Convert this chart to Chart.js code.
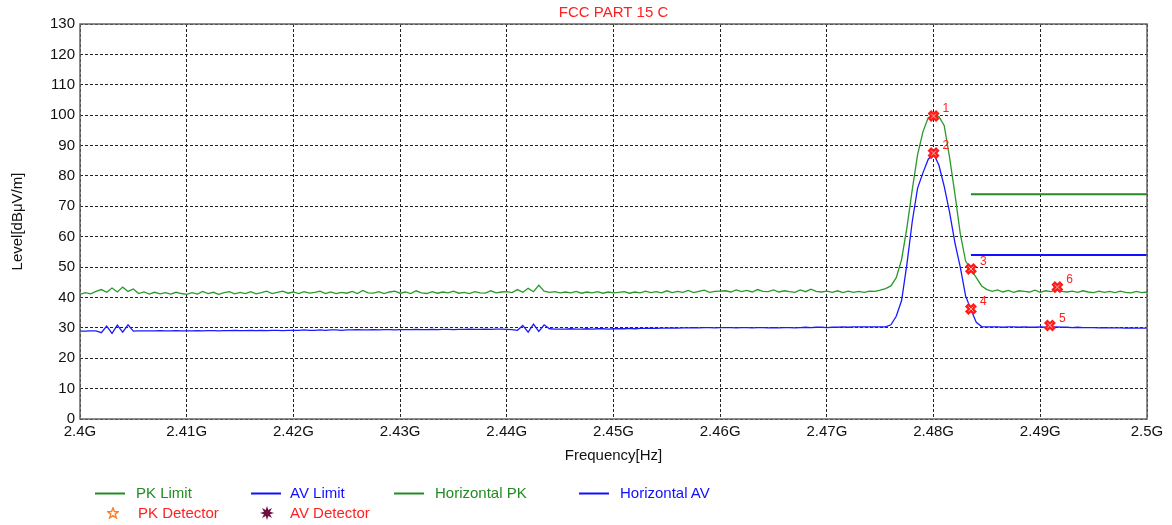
<!DOCTYPE html>
<html>
<head>
<meta charset="utf-8">
<script src="https://cdn.jsdelivr.net/npm/chart.js@4"></script>
<style>
html, body { margin: 0; padding: 0; background: #fff; }
#wrap { position: relative; width: 1172px; height: 525px; }
.lg { position: absolute; font-family: "Liberation Sans", Arial, sans-serif; font-size: 15px; white-space: nowrap; line-height: 18px; }
.sw { position: absolute; }
</style>
</head>
<body>
<div id="wrap">
  <canvas id="myChart" width="1172" height="525"></canvas>

  <svg class="sw" style="left:95px;top:492px" width="30" height="3"><line x1="0" y1="1.5" x2="30" y2="1.5" stroke="#228b22" stroke-width="2"/></svg>
  <div class="lg" style="left:136px;top:484px;color:#228b22">PK Limit</div>
  <svg class="sw" style="left:251px;top:492px" width="30" height="3"><line x1="0" y1="1.5" x2="30" y2="1.5" stroke="#1010ff" stroke-width="2"/></svg>
  <div class="lg" style="left:290px;top:484px;color:#1010ff">AV Limit</div>
  <svg class="sw" style="left:394px;top:492px" width="30" height="3"><line x1="0" y1="1.5" x2="30" y2="1.5" stroke="#228b22" stroke-width="2"/></svg>
  <div class="lg" style="left:435px;top:484px;color:#228b22">Horizontal PK</div>
  <svg class="sw" style="left:579px;top:492px" width="30" height="3"><line x1="0" y1="1.5" x2="30" y2="1.5" stroke="#1010ff" stroke-width="2"/></svg>
  <div class="lg" style="left:620px;top:484px;color:#1010ff">Horizontal AV</div>

  <svg class="sw" style="left:107px;top:507px" width="12" height="12"><polygon points="6,0.8 7.4,4.6 11.4,4.6 8.2,7.1 9.4,11 6,8.6 2.6,11 3.8,7.1 0.6,4.6 4.6,4.6" fill="none" stroke="#ff7f27" stroke-width="1.4"/></svg>
  <div class="lg" style="left:138px;top:504px;color:#ff2020">PK Detector</div>
  <svg class="sw" style="left:260px;top:506px" width="14" height="14"><polygon points="7,0 8.3,4 12,2 10,5.7 14,7 10,8.3 12,12 8.3,10 7,14 5.7,10 2,12 4,8.3 0,7 4,5.7 2,2 5.7,4" fill="#6b1040"/></svg>
  <div class="lg" style="left:290px;top:504px;color:#ff2020">AV Detector</div>
</div>

<script>
// sweep: 2400 MHz .. 2500 MHz, one reading every 0.5 MHz
const freqStartMHz = 2400;
const freqStepMHz = 0.5;

// Horizontal PK trace, dBuV/m
const horizontalPK = [
  41.0, 41.6, 41.2, 42.0, 42.6, 41.7, 43.1, 41.8, 43.4, 42.0, 42.8, 41.3, 41.8, 41.1, 41.7, 41.2, 41.6, 41.1, 41.7, 41.3, 41.0,
  41.6, 41.1, 42.0, 41.3, 41.7, 41.0, 41.6, 41.9, 41.2, 41.7, 41.3, 41.9, 41.2, 41.6, 42.1, 41.3, 41.7, 42.1, 41.4, 41.8,
  41.3, 41.9, 41.4, 41.7, 42.1, 41.3, 41.8, 41.3, 41.7, 41.4, 42.0, 41.3, 42.3, 41.5, 41.4, 41.9, 41.3, 41.8, 42.1, 41.4,
  41.8, 41.3, 42.2, 41.5, 41.3, 41.9, 41.4, 41.8, 41.5, 42.1, 41.4, 41.7, 41.3, 41.9, 41.5, 41.4, 42.2, 41.5, 41.8, 41.9,
  41.6, 42.6, 41.7, 43.0, 41.9, 44.0, 42.1, 41.7, 41.9, 41.5, 41.8, 41.5, 42.0, 41.4, 41.8, 41.5, 41.9, 41.4, 41.8, 41.5,
  41.7, 41.9, 41.4, 41.8, 41.5, 42.1, 41.6, 41.9, 41.5, 42.2, 41.6, 42.0, 41.7, 42.3, 41.6, 42.0, 42.4, 41.7, 42.0, 42.1,
  42.2, 41.8, 42.5, 41.9, 42.3, 41.8, 42.6, 42.0, 41.9, 42.5, 41.8, 42.2, 41.9, 41.7, 42.5, 41.9, 42.7, 42.0, 41.8, 42.1,
  41.7, 42.2, 41.6, 42.1, 41.7, 42.0,
  41.7, 42.1, 42.0, 42.4, 42.9, 43.8, 46.5, 52.5, 63.0, 75.5, 87.0, 94.5, 99.2, 99.8, 99.5, 96.5, 86.0, 74.0, 61.0, 52.0,
  49.2, 46.5, 43.8, 42.6,
  42.0, 42.5, 41.8, 42.3, 41.7, 42.2, 42.0, 41.8, 42.4, 41.7, 42.2, 41.9, 42.5, 42.0, 41.8, 42.1, 41.7, 42.2, 41.8, 41.6,
  42.1, 41.7, 42.0, 41.6, 42.1, 41.7, 41.5, 42.0, 41.6, 41.8
];

// Horizontal AV trace, dBuV/m
const horizontalAV = [
  28.9, 28.9, 29.0, 29.0, 28.4, 30.6, 28.2, 30.9, 28.6, 31.0, 28.9, 29.0, 29.0, 29.0, 29.0, 29.1, 29.0, 29.0, 29.1, 29.0, 29.0,
  29.0, 29.1, 29.0, 29.1, 29.1, 29.0, 29.1, 29.1, 29.2, 29.1, 29.1, 29.2, 29.1, 29.2, 29.1, 29.2, 29.2, 29.1, 29.2, 29.2,
  29.2, 29.3, 29.2, 29.2, 29.3, 29.2, 29.3, 29.3, 29.2, 29.3, 29.3, 29.4, 29.3, 29.3, 29.4, 29.3, 29.4, 29.4, 29.3, 29.4,
  29.4, 29.4, 29.5, 29.4, 29.4, 29.5, 29.4, 29.5, 29.5, 29.4, 29.5, 29.5, 29.6, 29.5, 29.5, 29.6, 29.5, 29.6, 29.6, 29.5,
  29.4, 29.2, 30.8, 28.6, 31.2, 28.8, 31.0, 29.7, 29.6, 29.6, 29.6, 29.7, 29.6, 29.6, 29.7, 29.6, 29.7, 29.7, 29.6, 29.7,
  29.7, 29.7, 29.8, 29.7, 29.8, 29.8, 29.9, 29.8, 29.9, 29.9, 30.0, 29.9, 30.0, 30.0, 30.1, 30.0, 30.1, 30.1, 30.0, 30.1,
  30.1, 30.1, 30.0, 30.1, 30.1, 30.0, 30.1, 30.1, 30.0, 30.1, 30.0, 30.1, 30.1, 30.0, 30.1, 30.2, 30.1, 30.2, 30.2, 30.1,
  30.2, 30.2, 30.3, 30.2, 30.3, 30.3, 30.3, 30.3, 30.3, 30.3, 30.3,
  31.0, 33.8, 39.0, 51.0, 65.0, 76.0, 81.0, 85.5, 87.3, 83.5, 76.5, 68.0, 58.0, 50.0, 40.5, 36.0, 31.8, 30.4, 30.3,
  30.3, 30.3, 30.2, 30.3, 30.3, 30.2, 30.3, 30.2, 30.2, 30.3, 30.2, 30.2, 30.3, 30.2, 30.2, 30.1, 30.2, 30.1, 30.1, 30.1,
  30.0, 30.1, 30.0, 30.0, 30.0, 29.9, 30.0, 29.9, 29.9, 29.9
];

// limit lines (restricted band from 2483.5 MHz)
const limitFreq = [2483.5, 2500];
const pkLimit = [74, 74];
const avLimit = [54, 54];

// marker table
const markerNo = ['1', '2', '3', '4', '5', '6'];
const markerFreq = [2480.0, 2480.0, 2483.5, 2483.5, 2490.9, 2491.6];
const markerLevel = [99.7, 87.5, 49.4, 36.2, 30.8, 43.4];

const yTicks = [0, 10, 20, 30, 40, 50, 60, 70, 80, 90, 100, 110, 120, 130];
const chartTitle = 'FCC PART 15 C';
const xTitle = 'Frequency[Hz]';
const yTitle = 'Level[dBμV/m]';

const FONT = '"Liberation Sans", Arial, sans-serif';

function toPoints(values) {
  return values.map((v, i) => ({x: freqStartMHz + i * freqStepMHz, y: v}));
}
function pairs(xs, ys) {
  return xs.map((x, i) => ({x: x, y: ys[i]}));
}

const frame = {
  id: 'frame',
  afterDatasetsDraw(chart) {
    const ctx = chart.ctx;
    const a = chart.chartArea;
    const xs = chart.scales.x, ys = chart.scales.y;
    ctx.save();
    ctx.strokeStyle = '#666';
    ctx.lineWidth = 1.5;
    ctx.strokeRect(a.left, a.top, a.right - a.left, a.bottom - a.top);

    // marker numbers
    ctx.fillStyle = '#ff2020';
    ctx.font = '12px ' + FONT;
    ctx.textAlign = 'left';
    ctx.textBaseline = 'middle';
    markerNo.forEach((n, i) => {
      ctx.fillText(n, xs.getPixelForValue(markerFreq[i]) + 9, ys.getPixelForValue(markerLevel[i]) - 7);
    });

    // titles
    ctx.textAlign = 'center';
    ctx.font = '15px ' + FONT;
    ctx.fillStyle = '#ff2020';
    ctx.fillText(chartTitle, (a.left + a.right) / 2, 13);
    ctx.fillStyle = '#111';
    ctx.fillText(xTitle, (a.left + a.right) / 2, 456);
    ctx.translate(18, (a.top + a.bottom) / 2);
    ctx.rotate(-Math.PI / 2);
    ctx.fillText(yTitle, 0, 0);
    ctx.restore();
  }
};

new Chart('myChart', {
  type: 'line',
  data: {
    datasets: [
      {
        label: 'markers',
        data: pairs(markerFreq, markerLevel),
        showLine: false,
        pointStyle: 'crossRot',
        pointRadius: 6,
        pointBorderWidth: 5,
        pointBorderColor: '#ff1a1a',
        order: 0
      },
      {
        label: 'markers inner',
        data: pairs(markerFreq, markerLevel),
        showLine: false,
        pointStyle: 'crossRot',
        pointRadius: 3.5,
        pointBorderWidth: 1,
        pointBorderColor: '#ffb0b0',
        order: -1
      },
      {
        label: 'PK Limit',
        data: pairs(limitFreq, pkLimit),
        borderColor: '#228b22',
        borderWidth: 2,
        pointRadius: 0,
        order: 1
      },
      {
        label: 'AV Limit',
        data: pairs(limitFreq, avLimit),
        borderColor: '#1010ff',
        borderWidth: 2,
        pointRadius: 0,
        order: 1
      },
      {
        label: 'Horizontal PK',
        data: toPoints(horizontalPK),
        borderColor: '#2a9a2a',
        borderWidth: 1.3,
        pointRadius: 0,
        tension: 0,
        order: 2
      },
      {
        label: 'Horizontal AV',
        data: toPoints(horizontalAV),
        borderColor: '#1a1aff',
        borderWidth: 1.3,
        pointRadius: 0,
        tension: 0,
        order: 2
      }
    ]
  },
  options: {
    responsive: false,
    animation: false,
    layout: {padding: {top: 24, right: 25, left: 0, bottom: 0}},
    plugins: {
      legend: {display: false},
      title: {display: false},
      tooltip: {enabled: false}
    },
    scales: {
      x: {
        type: 'linear',
        min: 2400,
        max: 2500,
        afterFit: (s) => { s.height = 106; },
        border: {display: false, dash: [3, 2]},
        grid: {color: '#222', lineWidth: 1, drawTicks: false},
        ticks: {
          stepSize: 10,
          padding: 4,
          color: '#111',
          font: {family: FONT, size: 15},
          maxRotation: 0,
          callback: (v) => parseFloat((v / 1000).toFixed(3)) + 'G'
        }
      },
      y: {
        type: 'linear',
        min: 0,
        max: 130,
        afterFit: (s) => { s.width = 80; },
        afterBuildTicks: (s) => { s.ticks = yTicks.map(v => ({value: v})); },
        border: {display: false, dash: [3, 2]},
        grid: {color: '#222', lineWidth: 1, drawTicks: false},
        ticks: {
          padding: 5,
          color: '#111',
          font: {family: FONT, size: 15}
        }
      }
    }
  },
  plugins: [frame]
});
</script>
</body>
</html>
